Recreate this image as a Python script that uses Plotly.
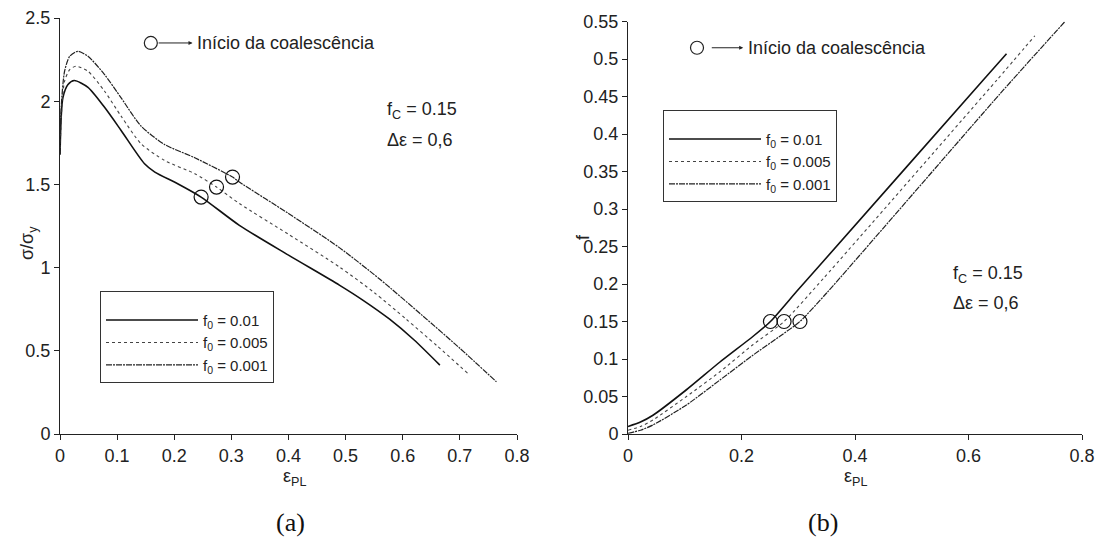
import plotly.graph_objects as go

# ---------------- data: panel (a) sigma/sigma_y vs eps_PL ----------------
eps_a_001 = [0, 0.002, 0.005, 0.014, 0.025, 0.049, 0.078, 0.107, 0.148, 0.166, 0.206, 0.247, 0.314, 0.40, 0.489, 0.53, 0.577, 0.62, 0.665]
sig_a_001 = [1.68, 1.90, 2.02, 2.10, 2.124, 2.083, 1.963, 1.824, 1.624, 1.574, 1.504, 1.424, 1.254, 1.075, 0.895, 0.805, 0.69, 0.565, 0.414]

eps_a_0005 = [0, 0.003, 0.008, 0.017, 0.028, 0.049, 0.078, 0.107, 0.142, 0.183, 0.236, 0.274, 0.314, 0.40, 0.489, 0.55, 0.606, 0.66, 0.714]
sig_a_0005 = [1.68, 1.95, 2.12, 2.19, 2.21, 2.18, 2.06, 1.91, 1.744, 1.644, 1.564, 1.484, 1.385, 1.20, 1.004, 0.85, 0.69, 0.53, 0.364]

eps_a_0001 = [0, 0.002, 0.008, 0.017, 0.031, 0.049, 0.078, 0.107, 0.142, 0.183, 0.236, 0.302, 0.314, 0.40, 0.489, 0.56, 0.635, 0.70, 0.764]
sig_a_0001 = [1.68, 1.96, 2.18, 2.27, 2.30, 2.27, 2.16, 2.02, 1.85, 1.74, 1.66, 1.544, 1.514, 1.325, 1.12, 0.93, 0.71, 0.515, 0.314]

coal_eps_a = [0.247, 0.274, 0.302]
coal_sig_a = [1.424, 1.484, 1.544]

# ---------------- data: panel (b) f vs eps_PL ----------------
eps_b_001 = [0, 0.022, 0.044, 0.103, 0.162, 0.220, 0.251, 0.297, 0.338, 0.626, 0.667]
f_b_001 = [0.010, 0.016, 0.025, 0.059, 0.096, 0.130, 0.150, 0.190, 0.225, 0.472, 0.507]

eps_b_0005 = [0, 0.022, 0.044, 0.103, 0.162, 0.220, 0.275, 0.345, 0.650, 0.717]
f_b_0005 = [0.005, 0.010, 0.0187, 0.050, 0.083, 0.119, 0.150, 0.208, 0.472, 0.531]

eps_b_0001 = [0, 0.022, 0.044, 0.103, 0.162, 0.220, 0.267, 0.303, 0.350, 0.656, 0.770]
f_b_0001 = [0.001, 0.005, 0.012, 0.0387, 0.072, 0.105, 0.130, 0.150, 0.188, 0.454, 0.550]

coal_eps_b = [0.251, 0.275, 0.303]
coal_f_b = [0.15, 0.15, 0.15]

labels = ["f<sub>0</sub> = 0.01", "f<sub>0</sub> = 0.005", "f<sub>0</sub> = 0.001"]
x_ticks_a = [0, 0.1, 0.2, 0.3, 0.4, 0.5, 0.6, 0.7, 0.8]
y_ticks_a = [0, 0.5, 1, 1.5, 2, 2.5]
x_ticks_b = [0, 0.2, 0.4, 0.6, 0.8]
y_ticks_b = [0, 0.05, 0.1, 0.15, 0.2, 0.25, 0.3, 0.35, 0.4, 0.45, 0.5, 0.55]

FONT = "Liberation Sans"
SERIF = "Liberation Serif"
styles = [
    dict(color="#111111", width=1.6, dash="solid"),
    dict(color="#444444", width=1.1, dash="dot"),
    dict(color="#222222", width=1.2, dash="6px,1px,2px,1px"),
]

fig = go.Figure()

series_a = [(eps_a_001, sig_a_001), (eps_a_0005, sig_a_0005), (eps_a_0001, sig_a_0001)]
series_b = [(eps_b_001, f_b_001), (eps_b_0005, f_b_0005), (eps_b_0001, f_b_0001)]

for (xs, ys), lab, st in zip(series_a, labels, styles):
    fig.add_trace(go.Scatter(x=xs, y=ys, mode="lines", name=lab, line=dict(shape="spline", smoothing=0.7, **st),
                             xaxis="x", yaxis="y", legend="legend"))
for (xs, ys), lab, st in zip(series_b, labels, styles):
    fig.add_trace(go.Scatter(x=xs, y=ys, mode="lines", name=lab, line=dict(shape="spline", smoothing=0.6, **st),
                             xaxis="x2", yaxis="y2", legend="legend2"))

marker = dict(symbol="circle-open", size=14, color="#111111", line=dict(width=1.2, color="#111111"))
fig.add_trace(go.Scatter(x=coal_eps_a, y=coal_sig_a, mode="markers", marker=marker, showlegend=False,
                         xaxis="x", yaxis="y"))
fig.add_trace(go.Scatter(x=coal_eps_b, y=coal_f_b, mode="markers", marker=marker, showlegend=False,
                         xaxis="x2", yaxis="y2"))

axis_common = dict(showgrid=False, zeroline=False, showline=True, linecolor="#222222", linewidth=1,
                   ticks="outside", ticklen=5, tickcolor="#222222", tickwidth=1, automargin=False,
                   tickfont=dict(family=FONT, size=18, color="#222222"))

legend_common = dict(xanchor="left", yanchor="top", bordercolor="#333333", borderwidth=1, bgcolor="white",
                     font=dict(family=FONT, size=15, color="#222222"), tracegroupgap=0, itemwidth=92,
                     title=dict(text=" ", font=dict(size=9)))

fig.update_layout(
    width=1100, height=542,
    margin=dict(l=0, r=0, t=0, b=0, autoexpand=False),
    paper_bgcolor="white", plot_bgcolor="white",
    font=dict(family=FONT, color="#222222"),
    xaxis=dict(domain=[60 / 1100, 517 / 1100], range=[0, 0.8], tickvals=x_ticks_a, anchor="y", **axis_common),
    yaxis=dict(domain=[(542 - 434) / 542, (542 - 18) / 542], range=[0, 2.5], tickvals=y_ticks_a, anchor="x",
               **axis_common),
    xaxis2=dict(domain=[628 / 1100, 1082 / 1100], range=[0, 0.8], tickvals=x_ticks_b, anchor="y2", **axis_common),
    yaxis2=dict(domain=[(542 - 434) / 542, (542 - 21.5) / 542], range=[0, 0.55], tickvals=y_ticks_b, anchor="x2",
                **axis_common),
    legend=dict(x=100 / 1100, y=(542 - 291) / 542, **legend_common),
    legend2=dict(x=663 / 1100, y=(542 - 110) / 542, **legend_common),
    showlegend=True,
)

ann_font = dict(family=FONT, size=18, color="#222222")
annotations = [
    # axis titles
    dict(x=28 / 1100, y=(542 - 243) / 542, xref="paper", yref="paper", text="σ/σ<sub>y</sub>", textangle=-90,
         xanchor="center", yanchor="middle", showarrow=False, font=ann_font),
    dict(x=583 / 1100, y=(542 - 237) / 542, xref="paper", yref="paper", text="f", textangle=-90,
         xanchor="center", yanchor="middle", showarrow=False, font=ann_font),
    dict(x=294 / 1100, y=(542 - 477) / 542, xref="paper", yref="paper", text="ε<sub>PL</sub>",
         xanchor="center", yanchor="middle", showarrow=False, font=ann_font),
    dict(x=855 / 1100, y=(542 - 477) / 542, xref="paper", yref="paper", text="ε<sub>PL</sub>",
         xanchor="center", yanchor="middle", showarrow=False, font=ann_font),
    # panel (a)
    dict(x=0.236, y=2.35, xref="x", yref="y", text="Início da coalescência", showarrow=False,
         xanchor="left", yanchor="middle", font=ann_font),
    dict(x=0.232, y=2.35, xref="x", yref="y", ax=0.170, ay=2.35, axref="x", ayref="y", text="",
         showarrow=True, arrowhead=2, arrowsize=0.8, arrowwidth=1, arrowcolor="#222222"),
    dict(x=0.569, y=1.945, xref="x", yref="y", text="f<sub>C</sub> = 0.15", showarrow=False,
         xanchor="left", yanchor="middle", font=ann_font),
    dict(x=0.569, y=1.765, xref="x", yref="y", text="Δε = 0,6", showarrow=False,
         xanchor="left", yanchor="middle", font=ann_font),
    # panel (b)
    dict(x=0.208, y=0.515, xref="x2", yref="y2", text="Início da coalescência", showarrow=False,
         xanchor="left", yanchor="middle", font=ann_font),
    dict(x=0.203, y=0.515, xref="x2", yref="y2", ax=0.145, ay=0.515, axref="x2", ayref="y2", text="",
         showarrow=True, arrowhead=2, arrowsize=0.8, arrowwidth=1, arrowcolor="#222222"),
    dict(x=0.569, y=0.213, xref="x2", yref="y2", text="f<sub>C</sub> = 0.15", showarrow=False,
         xanchor="left", yanchor="middle", font=ann_font),
    dict(x=0.569, y=0.175, xref="x2", yref="y2", text="Δε = 0,6", showarrow=False,
         xanchor="left", yanchor="middle", font=ann_font),
    # panel labels
    dict(x=290 / 1100, y=(542 - 522) / 542, xref="paper", yref="paper", text="(a)", showarrow=False,
         xanchor="center", yanchor="middle", font=dict(family=SERIF, size=26, color="#111111")),
    dict(x=823 / 1100, y=(542 - 522) / 542, xref="paper", yref="paper", text="(b)", showarrow=False,
         xanchor="center", yanchor="middle", font=dict(family=SERIF, size=26, color="#111111")),
]
fig.update_layout(annotations=annotations)

shapes = [
    dict(type="circle", xref="x", yref="y", xsizemode="pixel", ysizemode="pixel",
         xanchor=0.159, yanchor=2.35, x0=-6.5, x1=6.5, y0=-6.5, y1=6.5, line=dict(color="#222222", width=1.2)),
    dict(type="circle", xref="x2", yref="y2", xsizemode="pixel", ysizemode="pixel",
         xanchor=0.1216, yanchor=0.515, x0=-6.5, x1=6.5, y0=-6.5, y1=6.5, line=dict(color="#222222", width=1.2)),
]
fig.update_layout(shapes=shapes)

fig.write_html("out.html")
